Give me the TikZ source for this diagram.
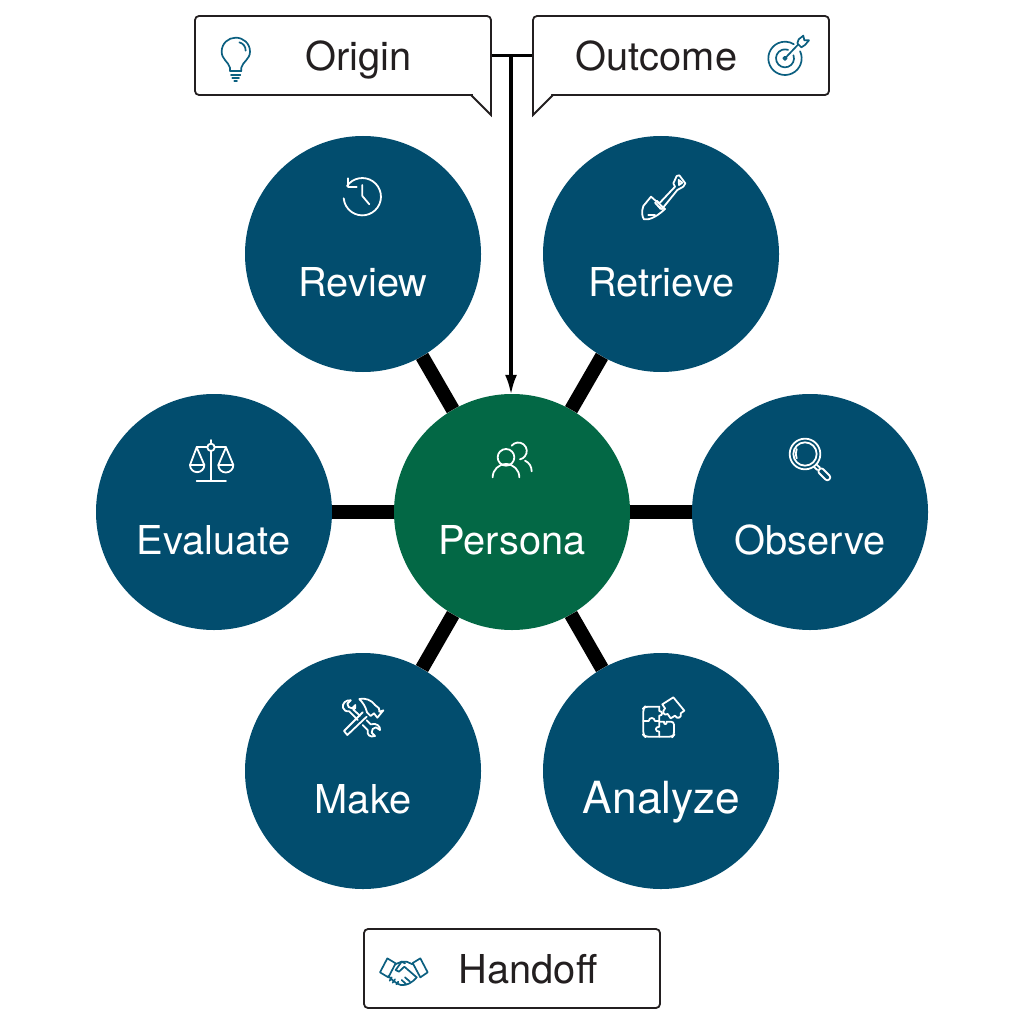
\documentclass[tikz,border=0pt]{standalone}
\usepackage{fontspec}
\setmainfont{TeX Gyre Heros}
\usetikzlibrary{arrows.meta}
\definecolor{hubblue}{HTML}{024D6E}
\definecolor{hubgreen}{HTML}{036845}
\definecolor{inkdark}{HTML}{231F20}
\definecolor{icoblue}{HTML}{0B5F80}
\tikzset{
  phase/.style={circle,fill=hubblue,minimum size=236pt,inner sep=0pt},
  hub/.style={circle,fill=hubgreen,minimum size=236pt,inner sep=0pt},
  ctitle/.style={text=white,font=\fontsize{39.8}{44}\selectfont,inner sep=0pt,anchor=base},
  btitle/.style={text=inkdark,font=\fontsize{39.8}{44}\selectfont,inner sep=0pt,anchor=base},
  spoke/.style={draw=black,line width=14pt},
  box/.style={draw=inkdark,line width=1.8pt,fill=white,rounded corners=4pt,minimum width=296pt,minimum height=79pt,inner sep=0pt},
  wico/.style={draw=white,line width=1.8pt,line join=round,line cap=round},
  bico/.style={draw=icoblue,line width=1.7pt,line join=round,line cap=round},
}
\begin{document}
\begin{tikzpicture}[x=1pt,y=-1pt]
\useasboundingbox (0,0) rectangle (1024,1024);
% nodes
\node[hub] (persona) at (512,512) {};
\node[phase] (review) at (363,254) {};
\node[phase] (retrieve) at (661,254) {};
\node[phase] (evaluate) at (214,512) {};
\node[phase] (observe) at (810,512) {};
\node[phase] (make) at (363,771) {};
\node[phase] (analyze) at (661,771) {};
\foreach \n in {review,retrieve,evaluate,observe,make,analyze}
  \draw[spoke] (persona) -- (\n);
\node[ctitle] (tpersona) at (512,554.5) {Persona};
\node[ctitle] (treview) at (363,296.5) {Review};
\node[ctitle] (tretrieve) at (661.5,296.5) {Retrieve};
\node[ctitle] (tevaluate) at (213.5,554.5) {Evaluate};
\node[ctitle] (tobserve) at (810,554.5) {Observe};
\node[ctitle] (tmake) at (363,813.5) {Make};
\node[ctitle,font=\fontsize{44.3}{48}\selectfont] (tanalyze) at (661.5,813.5) {Analyze};
% callouts
\node[box] (origin) at (343,55.5) {};
\node[box] (outcome) at (681,55.5) {};
\node[box] (handoff) at (512,968.5) {};
\fill[white] (473,93) -- (491,89) -- (491,115) -- (473,97) -- cycle;
\draw[inkdark,line width=1.8pt,line join=miter] (471,95) -- (491,115) -- (491,88);
\fill[white] (551,93) -- (533,89) -- (533,115) -- (551,97) -- cycle;
\draw[inkdark,line width=1.8pt,line join=miter] (553,95) -- (533,115) -- (533,88);
\node[btitle] (torigin) at (358.5,70.5) {Origin};
\node[btitle] (toutcome) at (656.5,70.5) {Outcome};
\node[btitle] (thandoff) at (528,983) {Handoff};
% top connector
\coordinate (junction) at (511,56);
\draw[black,line width=3.3pt] (origin.east) -- (outcome.west);
\draw[black,line width=3.3pt,-{Latex[length=20pt,width=12pt]},shorten >=-1pt] (junction) -- (junction |- persona.north);
% clock
\begin{scope}[shift={(320,160)},scale=1/3,wico]
\draw (81,78) arc[start angle=215,end angle=535,radius=56];
\draw (85,55) -- (85,82) -- (110,82);
\draw (127,75) -- (127,108) -- (148,133);
\end{scope}
% shovel
\begin{scope}[shift={(620,160)},scale=1/3,wico]
\draw (93,110) -- (70,138) .. controls (64,155) and (66,170) .. (72,178) .. controls (85,180) and (105,175) .. (135,147) -- cycle;
\draw (85,166) -- (105,166);
\draw (105,128) -- (122,147);
\draw (110,122) -- (118,130) -- (165,80);
\draw (118,140) -- (126,147) -- (172,90);
\draw (165,80) -- (160,70) -- (170,48) -- (178,46) -- (196,70) -- (190,80) -- (172,90);
\draw (176,60) -- (187,68) -- (177,75) -- cycle;
\end{scope}
% scales
\begin{scope}[shift={(170,425)},scale=1/3,wico]
\draw (123,45) -- (123,56);
\draw (123,78) -- (123,167);
\draw (80,167) -- (168,167);
\draw (123,67) circle[radius=11];
\draw (80,67) -- (112,67);
\draw (134,67) -- (168,67);
\draw (60,120) -- (80,67) -- (103,120);
\draw (60,120) -- (103,120) arc[start angle=0,end angle=180,radius=21.5];
\draw (145,120) -- (168,67) -- (190,120);
\draw (145,120) -- (190,120) arc[start angle=0,end angle=180,radius=22.5];
\end{scope}
% people
\begin{scope}[shift={(470,425)},scale=1/3,wico]
\draw (108,97) circle[radius=25];
\draw (68,157) arc[start angle=180,end angle=360,radius=40];
\draw (125,62) arc[start angle=219,end angle=438,radius=25.5];
\draw (165,107) .. controls (178,113) and (185,125) .. (185,139);
\end{scope}
% magnifier
\begin{scope}[shift={(770,425)},scale=1/3,wico]
\draw (105,87) circle[radius=46];
\draw (105,87) circle[radius=35];
\draw (80,72) .. controls (76,82) and (77,92) .. (80,100);
\draw (131,125) -- (142,135);
\draw (139,118) -- (150,128);
\draw[rounded corners=2.5pt] (154,127) -- (184,157) -- (172,169) -- (142,139) -- cycle;
\end{scope}
% tools
\begin{scope}[shift={(320,685)},scale=1/3,wico]
\draw (118,42) .. controls (135,38) and (155,45) .. (165,60) -- (177,70) -- (178,80) -- (190,76) -- (172,98) -- (162,85) -- (152,93) -- (141,82) .. controls (137,65) and (128,52) .. (118,42) -- cycle;
\draw (128,82) -- (72,138) -- (82,150) -- (140,95);
\draw (92,46) .. controls (78,44) and (66,55) .. (69,68) .. controls (71,76) and (78,80) .. (88,79) -- (113,105);
\draw (92,46) -- (82,56) -- (86,66) -- (96,70) -- (106,60) .. controls (108,68) and (105,72) .. (100,74) -- (120,92);
\draw (128,120) -- (143,135) .. controls (140,150) and (150,158) .. (165,153) -- (155,143) -- (158,132) -- (168,127) -- (180,135) .. controls (182,125) and (170,112) .. (152,118) -- (140,106);
\end{scope}
% puzzle
\begin{scope}[shift={(620,685)},scale=1/3,wico]
\draw[rounded corners=3pt] (118,65) -- (75,65) -- (70,70) -- (70,150) -- (75,155) -- (158,155) -- (162,150) -- (162,110) -- (140,110);
\draw (118,65) -- (118,78) .. controls (128,78) and (130,92) .. (118,92) -- (118,108) -- (105,108) .. controls (103,96) and (88,96) .. (86,108) -- (70,108);
\draw (118,108) -- (118,125) .. controls (104,125) and (104,140) .. (118,140) -- (118,155);
\draw (118,110) -- (132,110) .. controls (130,120) and (142,120) .. (140,110);
\draw (127,58) -- (160,37) -- (193,77) -- (182,85) .. controls (187,98) and (170,104) .. (165,92) -- (152,100) -- (143,87) .. controls (132,94) and (124,80) .. (135,70) -- cycle;
\end{scope}
% bulb
\begin{scope}[shift={(180,0)},scale=1/3,bico]
\draw (150,212) -- (150,203) .. controls (145,185) and (125,178) .. (125,155) .. controls (125,130) and (145,113) .. (167,113) .. controls (190,113) and (210,130) .. (210,155) .. controls (210,178) and (188,185) .. (184,203) -- (184,212);
\draw (178,127) .. controls (190,130) and (197,140) .. (197,152);
\draw (150,214) -- (184,214);
\draw (153,226) -- (181,226);
\draw (157,235) -- (177,235);
\draw (163,243) -- (171,243);
\end{scope}
% target
\begin{scope}[shift={(490,0)},scale=1/3,bico]
\draw (930.3,153.9) arc[start angle=335,end angle=662,radius=50];
\draw (910.4,165.8) arc[start angle=340,end angle=650,radius=27];
\draw (885,175) circle[radius=5];
\draw (885,175) -- (925,133);
\draw (922,130) -- (926,118) -- (940,107) -- (943,121) -- (957,121) -- (945,135) -- (934,142) -- (925,133);
\end{scope}
% handshake
\begin{scope}[shift={(355,920)},scale=1/3,bico]
\draw (75,157) -- (97,115) -- (122,130) -- (100,172) -- cycle;
\draw (218,157) -- (196,115) -- (173,129) -- (196,172) -- cycle;
\draw (120,133) -- (140,125) -- (150,130);
\draw (173,133) -- (155,125) -- (140,125) -- (122,150) -- (132,155) -- (148,140) -- (185,172);
\draw (100,168) -- (112,180) .. controls (125,190) and (135,197) .. (145,195) .. controls (155,195) and (170,190) .. (185,172);
\draw (110,172) -- (104,182);
\draw (120,178) -- (113,188);
\draw (130,185) -- (124,193);
\draw (150,172) -- (165,185);
\draw (140,180) -- (153,192);
\end{scope}
\end{tikzpicture}
\end{document}
